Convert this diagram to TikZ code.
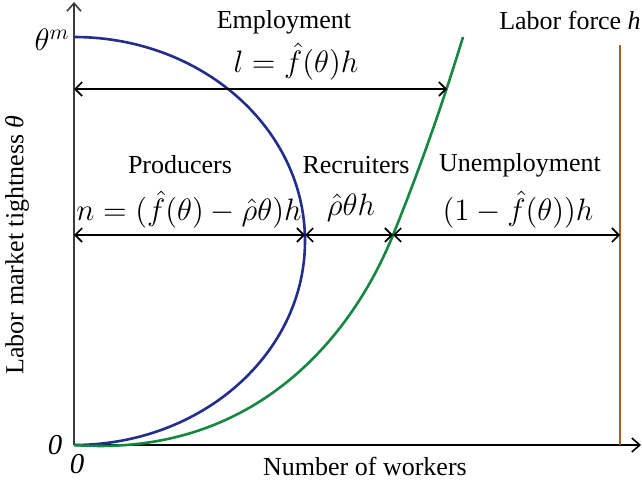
\documentclass[tikz,border=0pt]{standalone}
\usepackage{graphicx}
\usepackage{fontspec}
\setmainfont{Liberation Serif}
\usetikzlibrary{arrows.meta}
\definecolor{curveblue}{RGB}{35,45,140}
\definecolor{curvegreen}{RGB}{20,135,65}
\definecolor{forcebrown}{RGB}{165,95,45}
\definecolor{axisgray}{RGB}{60,60,60}
\newcommand{\bigmath}[1]{\scalebox{1.075}{$#1$}}
\begin{document}
\begin{tikzpicture}[x=0.5pt,y=-0.5pt,
  txt/.style={inner sep=0pt, font=\fontsize{13}{15}\selectfont},
  mth/.style={inner sep=0pt, font=\fontsize{14.4}{17}\selectfont},
  axisline/.style={line width=0.7pt, draw=axisgray, -{Straight Barb[length=4pt,width=7pt,line width=0.8pt]}},
  dimarrow/.style={line width=0.6pt, {Straight Barb[length=3.5pt,width=7pt,line width=0.8pt]}-{Straight Barb[length=3.5pt,width=7pt,line width=0.8pt]}},
  curve/.style={line width=1.3pt}]
\useasboundingbox (0,0) rectangle (642,482);
% axes
\coordinate (O) at (74,445);
\coordinate (ytop) at (74,2);
\coordinate (xend) at (641,445);
\draw[axisline] (O) -- (ytop);
\draw[axisline, draw=black] (O) -- (xend);
% labor force line
\coordinate (hbot) at (620,445);
\coordinate (htop) at (620,45);
\draw[forcebrown, line width=1.3pt] (hbot) -- (htop);
% blue curve (ellipse arc)
\coordinate (thm) at (74,37);
\draw[curve, curveblue] (thm) arc[start angle=-90, end angle=90, x radius=231, y radius=204];
% dimension arrow end points
\coordinate (eL) at (74,89);
\coordinate (eR) at (447,89);
\coordinate (mL) at (74,235);
\coordinate (mB) at (305,235);
\coordinate (mG) at (393,235);
\coordinate (mR) at (620,235);
\coordinate (gtop) at (463,37);
% green curve
\draw[curve, curvegreen] (O) .. controls (254,458) and (351.8,337) .. (mG)
  .. controls (419.3,170) and (442.6,104) .. (gtop);
% dimension arrows
\draw[dimarrow] (eL) -- (eR);
\draw[dimarrow] (mL) -- (mB);
\draw[dimarrow] (mB) -- (mG);
\draw[dimarrow] (mG) -- (mR);
% labels
\node[txt] (emp) at (284,22) {Employment};
\node[mth] (empf) at (296,62) {\bigmath{l=\hat f(\theta)h}};
\node[txt] (prod) at (180,165) {Producers};
\node[mth] (prodf) at (189,210) {\bigmath{n=(\hat f(\theta)-\hat\rho\theta)h}};
\node[txt] (rec) at (356,165) {Recruiters};
\node[mth] (recf) at (351,208) {\bigmath{\hat\rho\theta h}};
\node[txt] (unemp) at (520,165) {Unemployment};
\node[mth] (unempf) at (518,210) {\bigmath{(1-\hat f(\theta))h}};
\node[txt] (lf) at (570,20) {Labor force \textit{h}};
\node[mth, anchor=east] (thmlab) at (70,40) {\bigmath{\theta^m}};
\node[mth] (zeroy) at (55,445) {\textit{0}};
\node[mth] (zerox) at (77,464) {\textit{0}};
\node[txt] (xlab) at (365,466) {Number of workers};
\node[txt, rotate=90] (ylab) at (17,245) {Labor market tightness \textit{θ}};
\end{tikzpicture}
\end{document}
